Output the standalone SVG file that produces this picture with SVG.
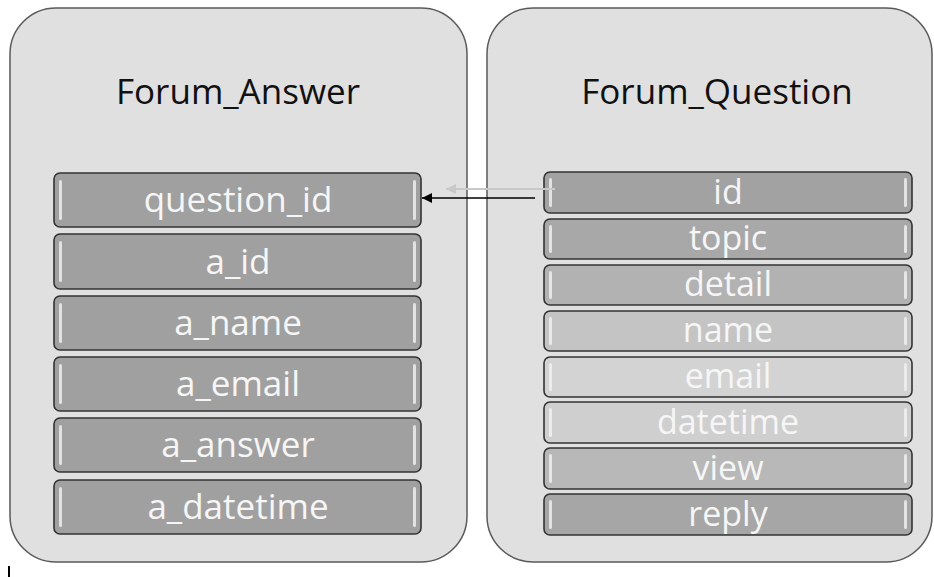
<svg xmlns="http://www.w3.org/2000/svg" width="934" height="577" viewBox="0 0 934 577">
<defs>
<style>
.box{fill:#e0e0e0;stroke:#5a5a5a;stroke-width:1.5}
.title{font-family:"Open Sans","Liberation Sans",sans-serif;font-size:35px;fill:#111;text-anchor:middle}
.row{stroke:#333;stroke-width:1.6}
.hl{fill:#f2f2f2;opacity:0.8}
.lbl{font-family:"Open Sans","Liberation Sans",sans-serif;fill:#f6f6f6;text-anchor:middle}
.l{font-size:35px}
.r{font-size:34px}
</style>
<marker id="ah" viewBox="0 0 10 10" refX="10" refY="5" markerWidth="10" markerHeight="10" markerUnits="userSpaceOnUse" orient="auto"><path d="M0,0L10,5L0,10z" fill="#000"/></marker>
<marker id="ahg" viewBox="0 0 10 10" refX="10" refY="5" markerWidth="10" markerHeight="10" markerUnits="userSpaceOnUse" orient="auto"><path d="M0,0L10,5L0,10z" fill="#c8c8c8"/></marker>
</defs>
<rect x="0" y="0" width="934" height="577" fill="#fff"/>
<g id="forum_answer">
<rect class="box" x="10" y="8" width="457" height="554" rx="46"/>
<text class="title" x="238" y="104">Forum_Answer</text>
</g>
<g id="forum_question">
<rect class="box" x="487" y="8" width="445" height="554" rx="46"/>
<text class="title" x="717" y="104">Forum_Question</text>
</g>
<g id="a_rows">
<g id="a_question_id"><rect class="row" x="54" y="173" width="367" height="54" rx="6" fill="#a0a0a0"/><rect class="hl" x="59" y="180" width="3" height="40" rx="1.5"/><rect class="hl" x="413" y="180" width="3" height="40" rx="1.5"/><text class="lbl l" x="238" y="212">question_id</text></g>
<g id="a_a_id"><rect class="row" x="54" y="234" width="367" height="55" rx="6" fill="#a0a0a0"/><rect class="hl" x="59" y="241" width="3" height="41" rx="1.5"/><rect class="hl" x="413" y="241" width="3" height="41" rx="1.5"/><text class="lbl l" x="238" y="274">a_id</text></g>
<g id="a_a_name"><rect class="row" x="54" y="296" width="367" height="54" rx="6" fill="#a0a0a0"/><rect class="hl" x="59" y="303" width="3" height="40" rx="1.5"/><rect class="hl" x="413" y="303" width="3" height="40" rx="1.5"/><text class="lbl l" x="238" y="335">a_name</text></g>
<g id="a_a_email"><rect class="row" x="54" y="357" width="367" height="54" rx="6" fill="#a0a0a0"/><rect class="hl" x="59" y="364" width="3" height="40" rx="1.5"/><rect class="hl" x="413" y="364" width="3" height="40" rx="1.5"/><text class="lbl l" x="238" y="396">a_email</text></g>
<g id="a_a_answer"><rect class="row" x="54" y="418" width="367" height="54" rx="6" fill="#a0a0a0"/><rect class="hl" x="59" y="425" width="3" height="40" rx="1.5"/><rect class="hl" x="413" y="425" width="3" height="40" rx="1.5"/><text class="lbl l" x="238" y="457">a_answer</text></g>
<g id="a_a_datetime"><rect class="row" x="54" y="480" width="367" height="54" rx="6" fill="#a0a0a0"/><rect class="hl" x="59" y="487" width="3" height="40" rx="1.5"/><rect class="hl" x="413" y="487" width="3" height="40" rx="1.5"/><text class="lbl l" x="238" y="519">a_datetime</text></g>
</g>
<g id="q_rows">
<g id="q_id"><rect class="row" x="544" y="172" width="368" height="41" rx="6" fill="#a2a2a2"/><rect class="hl" x="549" y="178" width="3" height="29" rx="1.5"/><rect class="hl" x="904" y="178" width="3" height="29" rx="1.5"/><text class="lbl r" x="728" y="204">id</text></g>
<g id="q_topic"><rect class="row" x="544" y="219" width="368" height="40" rx="6" fill="#a8a8a8"/><rect class="hl" x="549" y="225" width="3" height="28" rx="1.5"/><rect class="hl" x="904" y="225" width="3" height="28" rx="1.5"/><text class="lbl r" x="728" y="250">topic</text></g>
<g id="q_detail"><rect class="row" x="544" y="265" width="368" height="40" rx="6" fill="#b2b2b2"/><rect class="hl" x="549" y="271" width="3" height="28" rx="1.5"/><rect class="hl" x="904" y="271" width="3" height="28" rx="1.5"/><text class="lbl r" x="728" y="296">detail</text></g>
<g id="q_name"><rect class="row" x="544" y="311" width="368" height="40" rx="6" fill="#c4c4c4"/><rect class="hl" x="549" y="317" width="3" height="28" rx="1.5"/><rect class="hl" x="904" y="317" width="3" height="28" rx="1.5"/><text class="lbl r" x="728" y="342">name</text></g>
<g id="q_email"><rect class="row" x="544" y="357" width="368" height="40" rx="6" fill="#d3d3d3"/><rect class="hl" x="549" y="363" width="3" height="28" rx="1.5"/><rect class="hl" x="904" y="363" width="3" height="28" rx="1.5"/><text class="lbl r" x="728" y="388">email</text></g>
<g id="q_datetime"><rect class="row" x="544" y="402" width="368" height="41" rx="6" fill="#cfcfcf"/><rect class="hl" x="549" y="408" width="3" height="29" rx="1.5"/><rect class="hl" x="904" y="408" width="3" height="29" rx="1.5"/><text class="lbl r" x="728" y="434">datetime</text></g>
<g id="q_view"><rect class="row" x="544" y="448" width="368" height="41" rx="6" fill="#b8b8b8"/><rect class="hl" x="549" y="454" width="3" height="29" rx="1.5"/><rect class="hl" x="904" y="454" width="3" height="29" rx="1.5"/><text class="lbl r" x="728" y="480">view</text></g>
<g id="q_reply"><rect class="row" x="544" y="494" width="368" height="41" rx="6" fill="#a6a6a6"/><rect class="hl" x="549" y="500" width="3" height="29" rx="1.5"/><rect class="hl" x="904" y="500" width="3" height="29" rx="1.5"/><text class="lbl r" x="728" y="526">reply</text></g>
</g>
<g id="connectors">
<line x1="555" y1="189" x2="446" y2="189" stroke="#c8c8c8" stroke-width="2" marker-end="url(#ahg)"/>
<line x1="535" y1="198" x2="422" y2="198" stroke="#000" stroke-width="1.5" marker-end="url(#ah)"/>
</g>
<line x1="9" y1="566" x2="9" y2="577" stroke="#000" stroke-width="2"/>
</svg>
